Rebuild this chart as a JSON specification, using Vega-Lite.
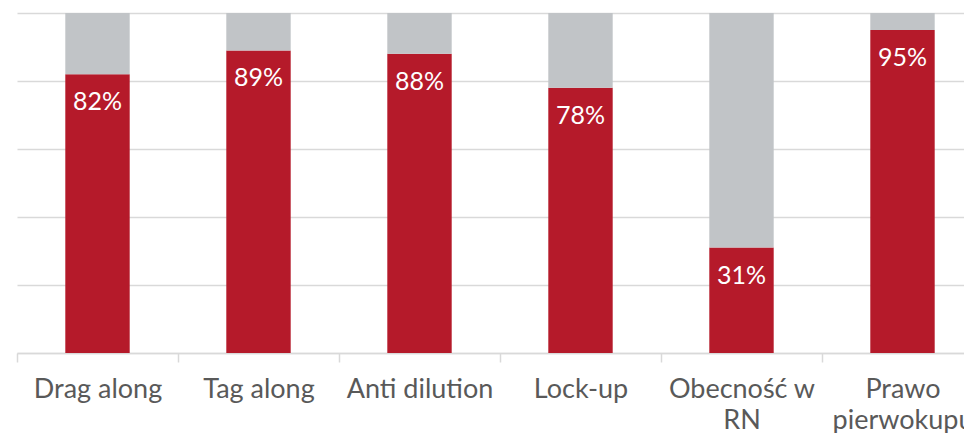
{
  "$schema": "https://vega.github.io/schema/vega-lite/v6.json",
  "autosize": {"type": "none"},
  "width": 947,
  "height": 340,
  "padding": {"left": 17, "top": 13, "right": 0, "bottom": 80},
  "background": "white",
  "config": {"view": {"stroke": null}, "font": "Lato"},
  "data": {"values": [
    {"cat": "Drag along", "series": "tak", "value": 0.82},
    {"cat": "Drag along", "series": "nie", "value": 0.18},
    {"cat": "Tag along", "series": "tak", "value": 0.89},
    {"cat": "Tag along", "series": "nie", "value": 0.11},
    {"cat": "Anti dilution", "series": "tak", "value": 0.88},
    {"cat": "Anti dilution", "series": "nie", "value": 0.12},
    {"cat": "Lock-up", "series": "tak", "value": 0.78},
    {"cat": "Lock-up", "series": "nie", "value": 0.22},
    {"cat": "Obecność w RN", "series": "tak", "value": 0.31},
    {"cat": "Obecność w RN", "series": "nie", "value": 0.69},
    {"cat": "Prawo pierwokupu", "series": "tak", "value": 0.95},
    {"cat": "Prawo pierwokupu", "series": "nie", "value": 0.05}
  ]},
  "encoding": {
    "x": {
      "field": "cat", "type": "nominal", "sort": null, "title": null,
      "scale": {"range": [0, 966], "paddingInner": 0, "paddingOuter": 0},
      "axis": {
        "labelAngle": 0, "labelFont": "Lato", "labelFontSize": 27, "labelColor": "#595959",
        "labelPadding": 14, "labelLineHeight": 31, "labelBaseline": "top",
        "domainColor": "#d9d9d9", "domainWidth": 1.5,
        "tickColor": "#d9d9d9", "tickWidth": 1.5, "tickSize": 9, "tickBand": "extent",
        "labelExpr": "datum.value == 'Obecność w RN' ? ['Obecność w', 'RN'] : datum.value == 'Prawo pierwokupu' ? ['Prawo', 'pierwokupu'] : datum.value",
        "labelLimit": 300, "labelOverlap": false
      }
    }
  },
  "layer": [
    {
      "mark": {"type": "bar", "width": {"band": 0.4}},
      "encoding": {
        "y": {
          "field": "value", "type": "quantitative", "stack": "zero", "title": null,
          "scale": {"domain": [0, 1], "nice": false},
          "axis": {"labels": false, "ticks": false, "domain": false, "values": [0, 0.2, 0.4, 0.6, 0.8, 1], "gridColor": "#d9d9d9", "gridWidth": 1.5}
        },
        "color": {
          "field": "series", "type": "nominal", "legend": null,
          "scale": {"domain": ["tak", "nie"], "range": ["#b51a2a", "#c1c4c7"]}
        },
        "order": {"field": "series", "sort": "descending"}
      }
    },
    {
      "transform": [{"filter": "datum.series == 'tak'"}],
      "mark": {"type": "text", "color": "white", "font": "Lato", "fontSize": 25, "baseline": "alphabetic", "dy": 36},
      "encoding": {
        "y": {"field": "value", "type": "quantitative"},
        "text": {"field": "value", "type": "quantitative", "format": ".0%"}
      }
    }
  ]
}
